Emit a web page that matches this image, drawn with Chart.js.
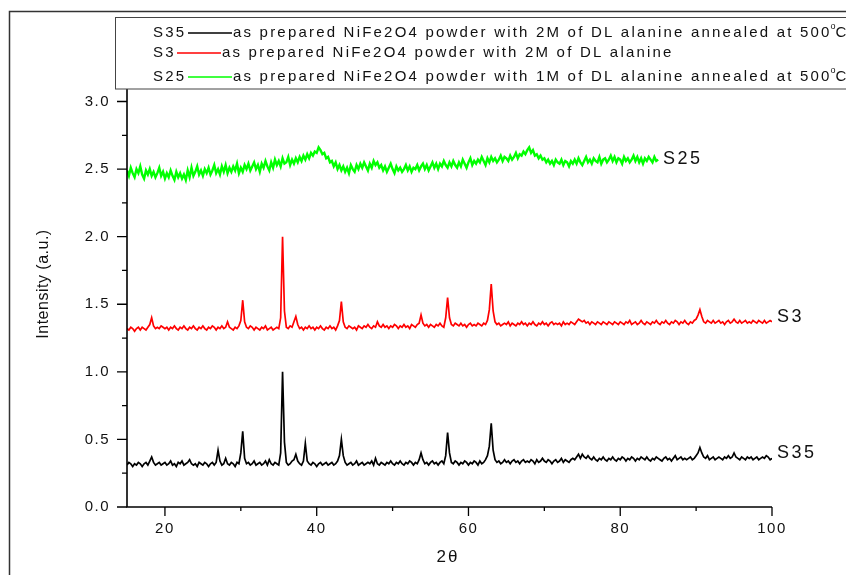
<!DOCTYPE html>
<html lang="en">
<head>
  <meta charset="UTF-8">
  <title>XRD patterns NiFe2O4</title>
  <script src="https://cdn.jsdelivr.net/npm/chart.js"></script>
  <style>
    body { margin: 0; padding: 0; background: white; }
    #wrap { position: relative; width: 846px; height: 575px; }
  </style>
</head>
<body>
  <div id="wrap"><canvas id="xrd" width="846" height="575"></canvas></div>

  <script>
    // 2theta grid: 15 to 100 deg, one reading every 0.25 deg
    const thetaStart = 15;
    const thetaStep = 0.25;

    // S35 - annealed, 2M DL alanine (one row = one degree)
    const s35 = [
      0.31,0.33,0.32,0.30, 0.32,0.31,0.33,0.32, 0.30,0.32,0.33,0.31, 0.34,0.37,0.33,0.31,
      0.32,0.33,0.31,0.32, 0.33,0.31,0.32,0.34, 0.31,0.32,0.30,0.33, 0.32,0.34,0.31,0.32,
      0.33,0.35,0.32,0.31, 0.32,0.30,0.33,0.32, 0.31,0.33,0.32,0.30, 0.32,0.33,0.31,0.33,
      0.42,0.34,0.31,0.32, 0.36,0.32,0.31,0.33, 0.32,0.30,0.33,0.32, 0.40,0.56,0.36,0.32,
      0.33,0.31,0.32,0.34, 0.31,0.32,0.33,0.31, 0.32,0.34,0.31,0.35, 0.32,0.31,0.33,0.32,
      0.31,0.40,1.00,0.48, 0.33,0.31,0.32,0.34, 0.35,0.39,0.34,0.32, 0.31,0.34,0.47,0.34,
      0.32,0.31,0.33,0.32, 0.30,0.32,0.33,0.31, 0.32,0.33,0.31,0.32, 0.33,0.31,0.32,0.34,
      0.38,0.50,0.38,0.33, 0.31,0.32,0.33,0.31, 0.32,0.34,0.31,0.32, 0.33,0.31,0.32,0.33,
      0.32,0.34,0.31,0.36, 0.32,0.31,0.33,0.32, 0.31,0.33,0.32,0.34, 0.32,0.31,0.33,0.32,
      0.34,0.32,0.31,0.33, 0.32,0.34,0.33,0.31, 0.33,0.32,0.35,0.40, 0.35,0.32,0.33,0.31,
      0.33,0.34,0.32,0.33, 0.31,0.33,0.34,0.32, 0.38,0.55,0.40,0.33, 0.32,0.34,0.33,0.31,
      0.33,0.32,0.34,0.33, 0.31,0.33,0.32,0.34, 0.33,0.31,0.34,0.32, 0.33,0.35,0.38,0.45,
      0.62,0.42,0.35,0.33, 0.34,0.32,0.33,0.35, 0.33,0.34,0.32,0.34, 0.35,0.33,0.34,0.32,
      0.34,0.35,0.33,0.34, 0.33,0.35,0.34,0.32, 0.35,0.33,0.34,0.36, 0.34,0.33,0.35,0.34,
      0.32,0.34,0.35,0.33, 0.34,0.36,0.33,0.35, 0.34,0.33,0.35,0.36, 0.35,0.37,0.39,0.36,
      0.39,0.37,0.36,0.38, 0.36,0.35,0.37,0.35, 0.34,0.36,0.35,0.37, 0.35,0.34,0.36,0.35,
      0.37,0.35,0.34,0.36, 0.35,0.37,0.36,0.34, 0.36,0.35,0.37,0.36, 0.34,0.36,0.35,0.37,
      0.36,0.35,0.37,0.35, 0.34,0.36,0.35,0.37, 0.36,0.35,0.34,0.36, 0.37,0.35,0.36,0.34,
      0.36,0.38,0.35,0.36, 0.37,0.35,0.36,0.35, 0.36,0.37,0.35,0.36, 0.38,0.40,0.44,0.40,
      0.37,0.36,0.38,0.35, 0.36,0.37,0.35,0.36, 0.37,0.36,0.35,0.37, 0.36,0.38,0.36,0.37,
      0.40,0.37,0.36,0.35, 0.37,0.36,0.35,0.37, 0.36,0.37,0.35,0.36, 0.37,0.35,0.36,0.37,
      0.36,0.38,0.37,0.35, 0.36
    ];

    // S3 - as prepared, 2M DL alanine
    const s3 = [
      1.32,1.31,1.33,1.32, 1.30,1.32,1.33,1.31, 1.33,1.32,1.31,1.33, 1.35,1.40,1.34,1.32,
      1.33,1.32,1.34,1.33, 1.32,1.33,1.31,1.33, 1.32,1.34,1.32,1.31, 1.33,1.32,1.34,1.32,
      1.31,1.33,1.32,1.34, 1.32,1.31,1.33,1.32, 1.34,1.32,1.31,1.33, 1.32,1.34,1.33,1.31,
      1.33,1.32,1.34,1.32, 1.33,1.37,1.33,1.32, 1.31,1.33,1.32,1.34, 1.38,1.53,1.37,1.33,
      1.32,1.34,1.33,1.31, 1.33,1.32,1.31,1.33, 1.32,1.34,1.31,1.32, 1.33,1.31,1.32,1.33,
      1.32,1.40,2.00,1.45, 1.33,1.32,1.34,1.33, 1.37,1.41,1.35,1.32, 1.33,1.31,1.33,1.32,
      1.34,1.32,1.33,1.31, 1.33,1.32,1.34,1.32, 1.31,1.33,1.32,1.34, 1.32,1.33,1.31,1.34,
      1.38,1.52,1.37,1.33, 1.32,1.34,1.33,1.32, 1.33,1.31,1.34,1.33, 1.32,1.34,1.33,1.35,
      1.33,1.32,1.34,1.33, 1.37,1.34,1.33,1.35, 1.33,1.34,1.32,1.34, 1.33,1.35,1.34,1.32,
      1.34,1.33,1.35,1.33, 1.34,1.32,1.35,1.34, 1.33,1.35,1.36,1.42, 1.36,1.34,1.35,1.33,
      1.35,1.34,1.33,1.35, 1.34,1.36,1.34,1.33, 1.40,1.55,1.40,1.35, 1.34,1.36,1.35,1.34,
      1.36,1.34,1.35,1.33, 1.35,1.36,1.34,1.35, 1.34,1.36,1.35,1.34, 1.36,1.35,1.38,1.46,
      1.65,1.45,1.37,1.35, 1.36,1.34,1.35,1.36, 1.35,1.37,1.34,1.36, 1.35,1.34,1.36,1.35,
      1.37,1.35,1.36,1.34, 1.36,1.35,1.37,1.35, 1.34,1.36,1.35,1.37, 1.35,1.36,1.34,1.36,
      1.37,1.35,1.36,1.35, 1.36,1.34,1.37,1.35, 1.36,1.35,1.37,1.36, 1.35,1.37,1.39,1.38,
      1.37,1.38,1.36,1.37, 1.35,1.37,1.36,1.35, 1.37,1.36,1.35,1.37, 1.36,1.35,1.37,1.36,
      1.35,1.37,1.36,1.35, 1.37,1.36,1.35,1.37, 1.36,1.38,1.35,1.36, 1.37,1.35,1.36,1.38,
      1.36,1.35,1.37,1.36, 1.35,1.37,1.36,1.38, 1.36,1.35,1.37,1.36, 1.38,1.36,1.35,1.37,
      1.36,1.38,1.37,1.35, 1.37,1.36,1.38,1.36, 1.35,1.37,1.36,1.38, 1.39,1.42,1.46,1.41,
      1.37,1.36,1.38,1.37, 1.36,1.38,1.36,1.37, 1.38,1.36,1.37,1.35, 1.37,1.38,1.36,1.37,
      1.39,1.37,1.36,1.38, 1.36,1.37,1.38,1.36, 1.37,1.36,1.38,1.37, 1.36,1.38,1.37,1.36,
      1.38,1.36,1.37,1.38, 1.37
    ];

    // S25 - annealed, 1M DL alanine (15 to 85 deg)
    const s25 = [
      2.49,2.45,2.51,2.47, 2.44,2.50,2.47,2.52, 2.46,2.43,2.49,2.46, 2.50,2.45,2.48,2.44,
      2.47,2.51,2.45,2.48, 2.43,2.47,2.44,2.49, 2.45,2.42,2.48,2.44, 2.47,2.43,2.46,2.42,
      2.49,2.44,2.51,2.45, 2.48,2.52,2.46,2.49, 2.45,2.50,2.47,2.51, 2.46,2.49,2.53,2.47,
      2.50,2.46,2.52,2.48, 2.53,2.47,2.51,2.48, 2.52,2.49,2.54,2.47, 2.51,2.48,2.53,2.50,
      2.54,2.49,2.52,2.55, 2.50,2.53,2.48,2.54, 2.51,2.56,2.52,2.49, 2.55,2.51,2.57,2.53,
      2.56,2.52,2.58,2.54, 2.55,2.59,2.53,2.57, 2.54,2.58,2.55,2.59, 2.56,2.60,2.57,2.61,
      2.58,2.62,2.60,2.63, 2.62,2.66,2.64,2.61, 2.62,2.58,2.59,2.55, 2.56,2.52,2.55,2.50,
      2.53,2.49,2.52,2.48, 2.51,2.47,2.53,2.50, 2.48,2.53,2.50,2.54, 2.51,2.55,2.52,2.49,
      2.54,2.51,2.56,2.53, 2.55,2.51,2.53,2.49, 2.52,2.48,2.51,2.54, 2.50,2.47,2.52,2.49,
      2.51,2.48,2.50,2.53, 2.49,2.52,2.48,2.51, 2.50,2.53,2.49,2.52, 2.54,2.50,2.53,2.49,
      2.52,2.55,2.51,2.54, 2.50,2.54,2.52,2.56, 2.53,2.51,2.55,2.52, 2.56,2.53,2.51,2.55,
      2.52,2.57,2.54,2.51, 2.55,2.58,2.53,2.56, 2.54,2.57,2.55,2.59, 2.56,2.53,2.58,2.55,
      2.59,2.56,2.58,2.55, 2.57,2.60,2.56,2.59, 2.58,2.56,2.60,2.57, 2.59,2.62,2.58,2.61,
      2.60,2.63,2.61,2.64, 2.66,2.62,2.64,2.60, 2.61,2.58,2.60,2.57, 2.58,2.55,2.57,2.54,
      2.56,2.53,2.57,2.55, 2.54,2.57,2.53,2.56, 2.55,2.52,2.56,2.54, 2.57,2.54,2.58,2.55,
      2.53,2.56,2.59,2.55, 2.57,2.54,2.58,2.56, 2.55,2.59,2.54,2.57, 2.58,2.55,2.57,2.60,
      2.56,2.59,2.55,2.58, 2.57,2.54,2.59,2.56, 2.58,2.55,2.57,2.60, 2.56,2.59,2.55,2.58,
      2.54,2.58,2.56,2.59, 2.57,2.55,2.59,2.56, 2.57
    ];

    const seriesNames = ['S35', 'S3', 'S25'];
    const seriesColors = ['#000000', '#ff0000', '#00ff00'];
    const seriesWidths = [1.7, 1.7, 2.4];
    const legendTexts = [
      'as prepared NiFe2O4 powder with 2M of DL alanine annealed at 500',
      'as prepared NiFe2O4 powder with 2M of DL alanine',
      'as prepared NiFe2O4 powder with 1M of DL alanine annealed at 500'
    ];
    const legendDegree = [true, false, true];
    const xMajor = [20, 40, 60, 80, 100];
    const xMinor = [30, 50, 70, 90];
    const yMajor = [0, 0.5, 1.0, 1.5, 2.0, 2.5, 3.0];
    const yMinor = [0.25, 0.75, 1.25, 1.75, 2.25, 2.75];
    const xRange = [15, 100];
    const yRange = [0, 3.1];

    const toPoints = arr => arr.map((v, i) => ({ x: thetaStart + i * thetaStep, y: v }));
    const seriesData = [s35, s3, s25];

    const FONT = "'Liberation Sans', Arial, sans-serif";

    const decorations = {
      id: 'decorations',
      beforeDraw(chart) {
        chart.ctx.letterSpacing = '1.5px';
      },
      afterDraw(chart) {
        const { ctx, scales: { x, y } } = chart;
        ctx.save();
        ctx.letterSpacing = '0px';

        // axes
        const x0 = x.getPixelForValue(xRange[0]), x1 = x.getPixelForValue(xRange[1]);
        const y0 = y.getPixelForValue(yRange[0]), y1 = y.getPixelForValue(yRange[1]);
        ctx.strokeStyle = '#000';
        ctx.lineWidth = 1.6;
        ctx.beginPath();
        ctx.moveTo(x0, y1); ctx.lineTo(x0, y0); ctx.lineTo(x1, y0);
        ctx.stroke();

        ctx.lineWidth = 1.3;
        ctx.beginPath();
        xMajor.forEach(v => { const p = x.getPixelForValue(v); ctx.moveTo(p, y0); ctx.lineTo(p, y0 + 9); });
        xMinor.forEach(v => { const p = x.getPixelForValue(v); ctx.moveTo(p, y0); ctx.lineTo(p, y0 + 4); });
        yMajor.forEach(v => { const p = y.getPixelForValue(v); ctx.moveTo(x0, p); ctx.lineTo(x0 - 10, p); });
        yMinor.forEach(v => { const p = y.getPixelForValue(v); ctx.moveTo(x0, p); ctx.lineTo(x0 - 5, p); });
        ctx.stroke();

        // axis titles
        ctx.fillStyle = '#111';
        ctx.textBaseline = 'middle';
        ctx.save();
        ctx.translate(44, 284);
        ctx.rotate(-Math.PI / 2);
        ctx.textAlign = 'center';
        ctx.font = '16px ' + FONT;
        ctx.letterSpacing = '0.5px';
        ctx.fillText('Intensity (a.u.)', 0, 0);
        ctx.restore();

        ctx.textAlign = 'center';
        ctx.font = '17px ' + FONT;
        ctx.letterSpacing = '2px';
        ctx.fillText('2θ', 448, 557);

        // series labels at line ends
        ctx.textAlign = 'left';
        ctx.font = '18px ' + FONT;
        ctx.letterSpacing = '2.5px';
        const labelPos = [[777, 453], [777, 317], [663, 159]];
        seriesNames.forEach((n, i) => ctx.fillText(n, labelPos[i][0], labelPos[i][1]));

        // outer frame
        ctx.letterSpacing = '0px';
        ctx.strokeStyle = '#333';
        ctx.lineWidth = 1.5;
        ctx.beginPath();
        ctx.moveTo(846, 11.5); ctx.lineTo(9.5, 11.5); ctx.lineTo(9.5, 575);
        ctx.stroke();

        // legend box
        ctx.fillStyle = '#fff';
        ctx.fillRect(115.5, 17.5, 740, 71.5);
        ctx.strokeStyle = '#444';
        ctx.lineWidth = 1;
        ctx.strokeRect(115.5, 17.5, 740, 71.5);

        const rowY = [33, 53, 77];
        const lineSpan = [[188, 232], [177, 221], [188, 232]];
        ctx.font = '15px ' + FONT;
        ctx.letterSpacing = '2.2px';
        seriesNames.forEach((n, i) => {
          ctx.fillStyle = '#111';
          ctx.fillText(n, 153, rowY[i]);
          ctx.strokeStyle = seriesColors[i];
          ctx.lineWidth = 1.5;
          ctx.beginPath();
          ctx.moveTo(lineSpan[i][0], rowY[i]);
          ctx.lineTo(lineSpan[i][1], rowY[i]);
          ctx.stroke();
          let tx = lineSpan[i][1] + 1;
          ctx.fillText(legendTexts[i], tx, rowY[i]);
          if (legendDegree[i]) {
            tx += ctx.measureText(legendTexts[i]).width;
            ctx.font = '9px ' + FONT;
            ctx.letterSpacing = '0px';
            ctx.fillText('o', tx - 1, rowY[i] - 6);
            tx += ctx.measureText('o').width;
            ctx.font = '15px ' + FONT;
            ctx.letterSpacing = '2.2px';
            ctx.fillText('C', tx - 1, rowY[i]);
          }
        });
        ctx.restore();
      }
    };

    new Chart(document.getElementById('xrd'), {
      type: 'line',
      data: {
        datasets: seriesData.map((arr, i) => ({
          label: seriesNames[i],
          data: toPoints(arr),
          borderColor: seriesColors[i],
          borderWidth: seriesWidths[i],
          pointRadius: 0,
          tension: 0,
          fill: false
        }))
      },
      options: {
        responsive: false,
        animation: false,
        events: [],
        layout: { padding: { left: 0, right: 74, top: 88, bottom: 0 } },
        plugins: { legend: { display: false }, tooltip: { enabled: false } },
        scales: {
          x: {
            type: 'linear',
            min: xRange[0], max: xRange[1],
            grid: { display: false, drawTicks: false },
            border: { display: false },
            afterBuildTicks: s => { s.ticks = xMajor.map(v => ({ value: v })); },
            afterFit: s => { s.height = 68; },
            ticks: { color: '#111', padding: 13, maxRotation: 0, font: { family: FONT, size: 15 }, callback: v => String(v) }
          },
          y: {
            type: 'linear',
            min: yRange[0], max: yRange[1],
            grid: { display: false, drawTicks: false },
            border: { display: false },
            afterBuildTicks: s => { s.ticks = yMajor.map(v => ({ value: v })); },
            afterFit: s => { s.width = 127; },
            ticks: { color: '#111', padding: 17, font: { family: FONT, size: 15 }, callback: v => Number(v).toFixed(1) }
          }
        }
      },
      plugins: [decorations]
    });
  </script>
</body>
</html>
